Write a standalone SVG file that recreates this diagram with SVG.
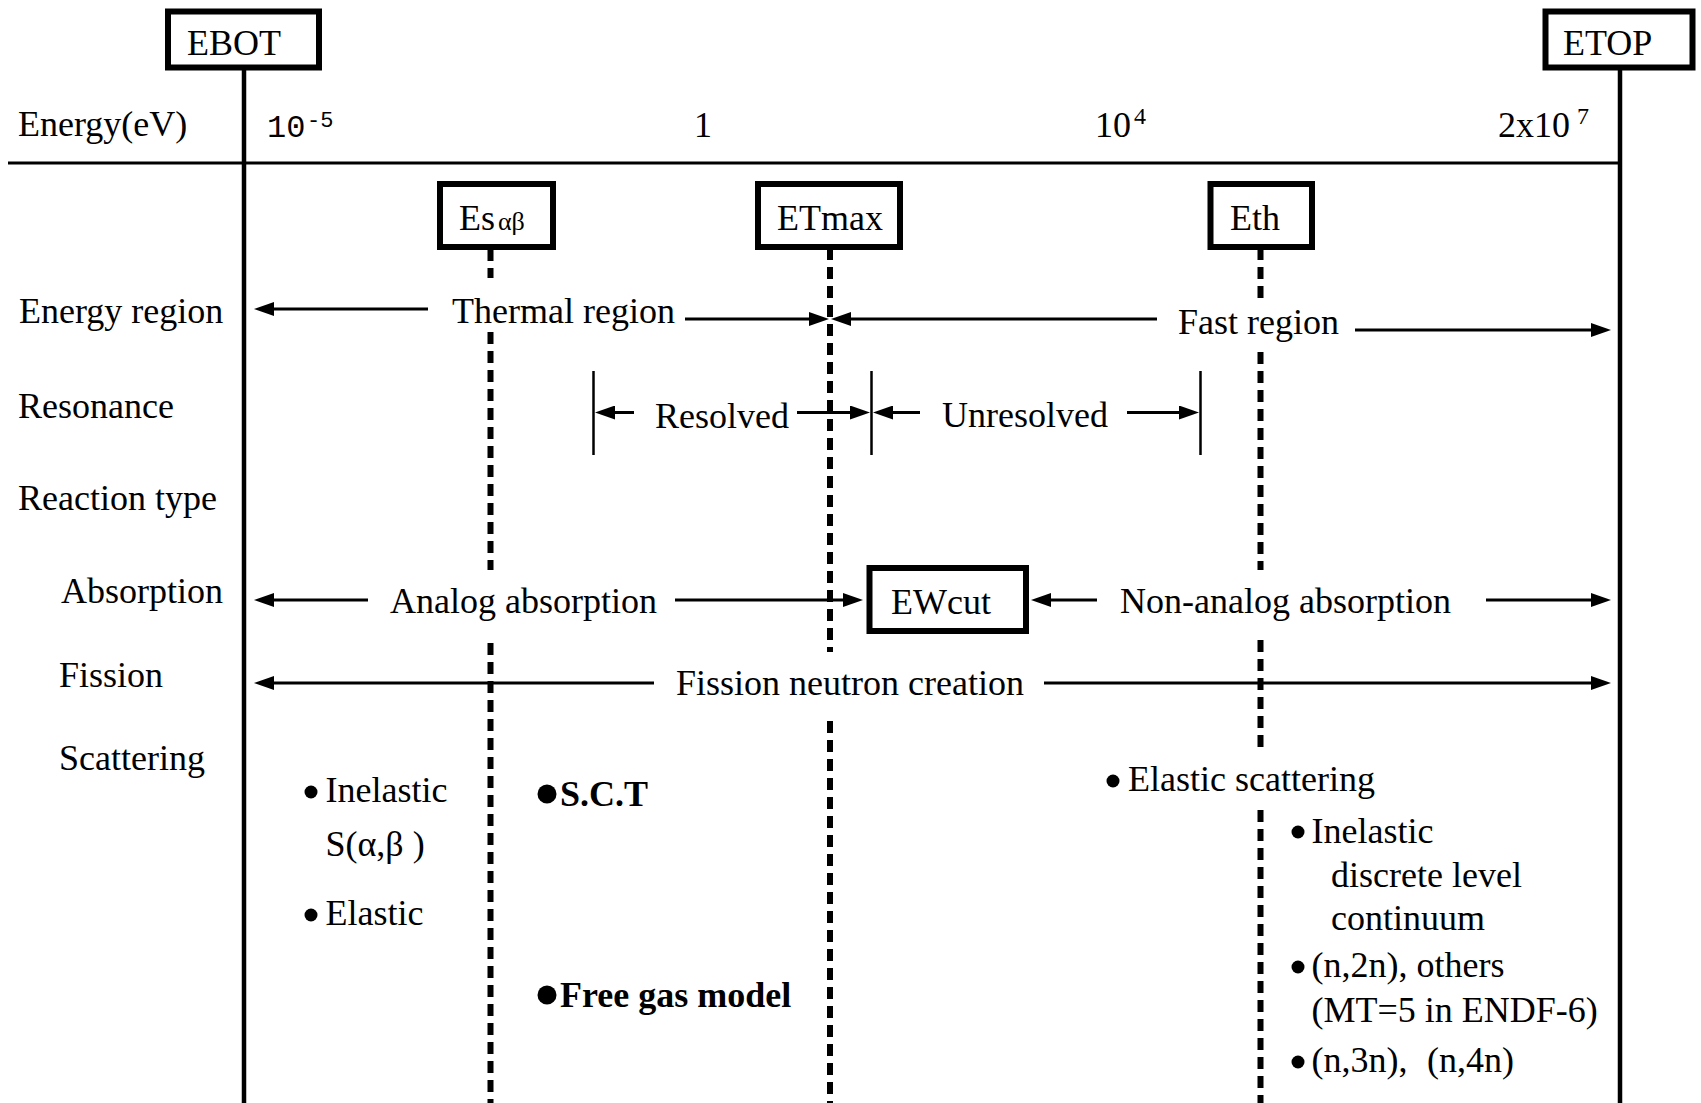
<svg xmlns="http://www.w3.org/2000/svg" width="1701" height="1103" viewBox="0 0 1701 1103">
  <style>
    text { font-family: "Liberation Serif", "Times New Roman", serif; font-size: 36px; fill: #000; }
    .mono { font-family: "Liberation Mono", "Courier New", monospace; }
    .bold { font-weight: bold; }
    .box { fill: #fff; stroke: #000; stroke-width: 6; }
    .axis { stroke: #000; stroke-width: 4.5; fill: none; }
    .rule { stroke: #000; stroke-width: 3; fill: none; }
    .dash { stroke: #000; stroke-width: 6; stroke-dasharray: 12 7; fill: none; }
    .arr { stroke: #000; stroke-width: 3; fill: none; marker-end: url(#ah); }
    .bar { stroke: #000; stroke-width: 2.5; fill: none; }
  </style>
  <defs>
    <marker id="ah" viewBox="0 0 20 14" refX="0" refY="7" markerWidth="20" markerHeight="14" markerUnits="userSpaceOnUse" orient="auto">
      <path d="M0,0 L20,7 L0,14 Z" fill="#000"/>
    </marker>
  </defs>
  <rect width="1701" height="1103" fill="#fff"/>

  <!-- energy axis and bounding limits -->
  <g id="axes">
    <line class="rule" x1="8" y1="163" x2="1620" y2="163"/>
    <line class="axis" x1="244" y1="70" x2="244" y2="1103"/>
    <line class="axis" x1="1620" y1="70" x2="1620" y2="1103"/>
  </g>

  <!-- dashed boundary markers -->
  <g id="boundaries">
    <path class="dash" d="M490.5,249 V278 M490.5,332 V570 M490.5,643 V1103"/>
    <path class="dash" d="M830,248 V652 M830,721 V1103"/>
    <path class="dash" d="M1260.5,248 V299 M1260.5,352 V570 M1260.5,640 V753 M1260.5,810 V1103"/>
  </g>

  <!-- row labels -->
  <g id="row-labels">
    <text x="18" y="136">Energy(eV)</text>
    <text x="19" y="323">Energy region</text>
    <text x="18" y="418">Resonance</text>
    <text x="18" y="510">Reaction type</text>
    <text x="61" y="603">Absorption</text>
    <text x="59" y="687">Fission</text>
    <text x="59" y="770">Scattering</text>
  </g>

  <!-- energy scale ticks -->
  <g id="ticks">
    <text class="mono" x="267" y="137" style="font-size:32px">10</text>
    <text class="mono" x="307" y="127" style="font-size:22px">-5</text>
    <text x="694" y="137">1</text>
    <text x="1095" y="137">10</text>
    <text x="1134" y="124" style="font-size:24px">4</text>
    <text x="1498" y="137">2x10</text>
    <text x="1577" y="124" style="font-size:24px">7</text>
  </g>

  <g id="EBOT">
    <rect class="box" x="168" y="11.5" width="151" height="56"/>
    <text x="187" y="55">EBOT</text>
  </g>
  <g id="ETOP">
    <rect class="box" x="1545.5" y="11.5" width="147" height="56"/>
    <text x="1563" y="55">ETOP</text>
  </g>
  <g id="Esab">
    <rect class="box" x="440" y="184" width="113" height="63"/>
    <text x="459" y="230">Es<tspan x="498" style="font-size:26px">αβ</tspan></text>
  </g>
  <g id="ETmax">
    <rect class="box" x="758" y="184" width="142" height="63"/>
    <text x="777" y="230">ETmax</text>
  </g>
  <g id="Eth">
    <rect class="box" x="1210.5" y="184" width="101.5" height="63"/>
    <text x="1230" y="230">Eth</text>
  </g>
  <g id="EWcut">
    <rect class="box" x="869.5" y="568" width="156.5" height="63"/>
    <text x="891" y="614">EWcut</text>
  </g>

  <!-- range arrows -->
  <g id="connectors">
    <!-- energy region -->
    <line class="arr" x1="428" y1="309" x2="274" y2="309"/>
    <line class="arr" x1="685" y1="319" x2="809" y2="319"/>
    <line class="arr" x1="1157" y1="319" x2="851" y2="319"/>
    <line class="arr" x1="1355" y1="330" x2="1591" y2="330"/>
    <!-- resonance -->
    <line class="bar" x1="593.5" y1="371" x2="593.5" y2="455"/>
    <line class="bar" x1="871.5" y1="371" x2="871.5" y2="455"/>
    <line class="bar" x1="1200.5" y1="371" x2="1200.5" y2="455"/>
    <line class="arr" x1="634" y1="412.5" x2="615" y2="412.5"/>
    <line class="arr" x1="797" y1="412.5" x2="850" y2="412.5"/>
    <line class="arr" x1="920" y1="412.5" x2="893" y2="412.5"/>
    <line class="arr" x1="1127" y1="412.5" x2="1179" y2="412.5"/>
    <!-- absorption -->
    <line class="arr" x1="368" y1="600" x2="274" y2="600"/>
    <line class="arr" x1="675" y1="600" x2="843" y2="600"/>
    <line class="arr" x1="1097" y1="600" x2="1051" y2="600"/>
    <line class="arr" x1="1486" y1="600" x2="1591" y2="600"/>
    <!-- fission -->
    <line class="arr" x1="654" y1="683" x2="274" y2="683"/>
    <line class="arr" x1="1044" y1="683" x2="1591" y2="683"/>
  </g>

  <!-- range labels -->
  <g id="range-labels">
    <text x="452" y="323">Thermal region</text>
    <text x="1178" y="334">Fast region</text>
    <text x="655" y="428">Resolved</text>
    <text x="942" y="427">Unresolved</text>
    <text x="390" y="613">Analog absorption</text>
    <text x="1120" y="613">Non-analog absorption</text>
    <text x="676" y="695">Fission neutron creation</text>
  </g>

  <!-- scattering models -->
  <g id="scattering-thermal">
    <circle cx="311" cy="792" r="6.5"/>
    <text x="325.5" y="802">Inelastic</text>
    <text x="325.5" y="856">S(α,β )</text>
    <circle cx="311" cy="915" r="6.5"/>
    <text x="325.5" y="925">Elastic</text>
  </g>
  <g id="scattering-models">
    <circle cx="547" cy="794" r="9.5"/>
    <text class="bold" x="560" y="806">S.C.T</text>
    <circle cx="547" cy="995" r="9.5"/>
    <text class="bold" x="560" y="1007">Free gas model</text>
  </g>
  <g id="scattering-fast">
    <circle cx="1113" cy="781" r="6.5"/>
    <text x="1128" y="791">Elastic scattering</text>
    <circle cx="1298" cy="832" r="6.5"/>
    <text x="1311.5" y="843">Inelastic</text>
    <text x="1331" y="887">discrete level</text>
    <text x="1331" y="930">continuum</text>
    <circle cx="1298" cy="967" r="6.5"/>
    <text x="1311.5" y="977">(n,2n), others</text>
    <text x="1311.5" y="1022">(MT=5 in ENDF-6)</text>
    <circle cx="1298" cy="1062" r="6.5"/>
    <text x="1311.5" y="1072">(n,3n),<tspan x="1427">(n,4n)</tspan></text>
  </g>
</svg>
